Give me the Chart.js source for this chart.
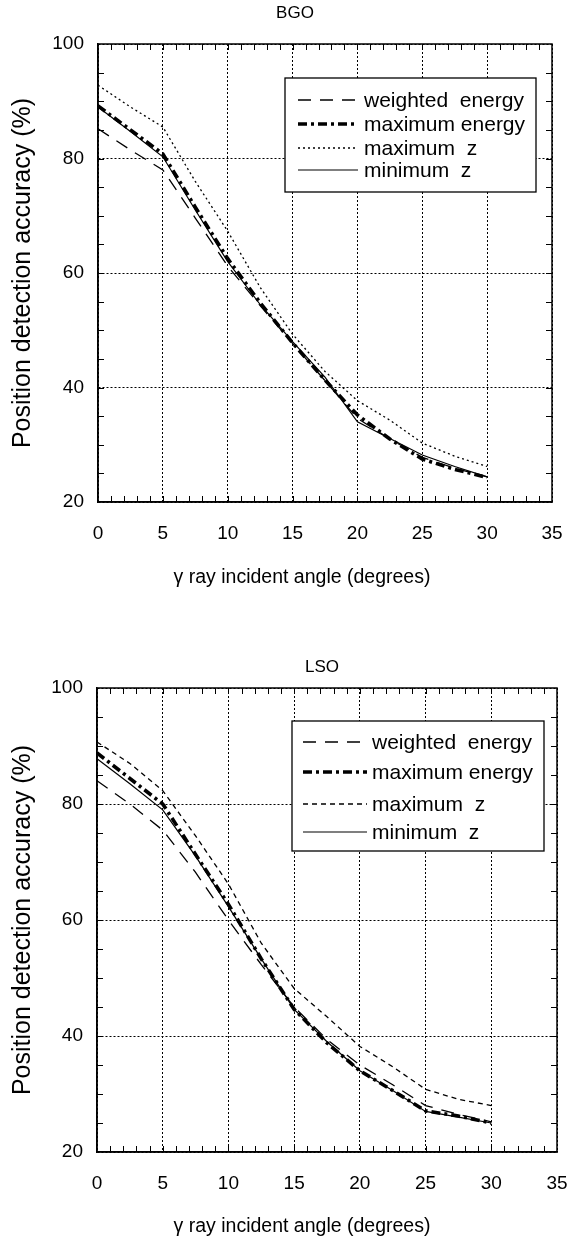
<!DOCTYPE html>
<html>
<head>
<meta charset="utf-8">
<script src="https://cdn.jsdelivr.net/npm/chart.js@4.4.1/dist/chart.umd.min.js"></script>
<style>
  body { margin: 0; background: #fff; width: 572px; height: 1244px; overflow: hidden; }
  .chart-box { position: absolute; left: 0; width: 572px; height: 622px; }
</style>
</head>
<body>
<div class="chart-box" style="top:0"><canvas id="bgoChart"></canvas></div>
<div class="chart-box" style="top:622px"><canvas id="lsoChart"></canvas></div>

<script>
// incident angle (degrees), values every 2.5 deg
const angles = [0, 2.5, 5, 7.5, 10, 12.5, 15, 17.5, 20, 22.5, 25, 27.5, 30];

const seriesNames = ['weighted  energy', 'maximum energy', 'maximum  z', 'minimum  z'];

// BGO
const bgoWeighted  = [85.2, 81.5, 78.0, 69.6, 61.2, 54.3, 47.7, 41.2, 34.6, 31.0, 27.8, 25.9, 24.4];
const bgoMaxEnergy = [89.2, 85.0, 80.8, 71.5, 62.5, 54.8, 47.8, 41.3, 35.2, 31.0, 27.5, 25.7, 24.3];
const bgoMaxZ      = [92.8, 89.0, 85.5, 76.0, 67.3, 57.5, 49.3, 42.8, 37.7, 34.3, 30.3, 28.0, 26.2];
const bgoMinZ      = [89.0, 84.7, 80.3, 71.0, 62.0, 54.5, 48.0, 41.8, 34.0, 31.1, 28.2, 26.2, 24.4];

// LSO
const lsoWeighted  = [84.0, 80.0, 75.5, 68.2, 60.0, 52.3, 45.0, 39.4, 35.0, 31.6, 28.0, 26.5, 25.2];
const lsoMaxEnergy = [88.8, 84.4, 80.0, 71.3, 62.7, 53.3, 44.6, 38.8, 34.0, 30.6, 27.1, 26.2, 25.0];
const lsoMaxZ      = [90.7, 87.0, 82.3, 74.5, 66.2, 56.0, 48.2, 43.3, 38.2, 34.7, 30.8, 29.1, 28.0];
const lsoMinZ      = [87.8, 83.5, 79.0, 71.0, 62.3, 53.3, 44.6, 39.0, 34.0, 30.6, 27.0, 26.0, 25.0];

const xTicks = [0, 5, 10, 15, 20, 25, 30, 35];
const yTicks = [20, 40, 60, 80, 100];

const xTitleText = 'γ ray incident angle (degrees)';
const yTitleText = 'Position detection accuracy (%)';

const FONT = '"Liberation Sans", Arial, Helvetica, sans-serif';
Chart.defaults.font.family = FONT;
Chart.defaults.color = '#000';

const toPoints = (vals) => angles.map((a, i) => ({ x: a, y: vals[i] }));

// frame + inward minor ticks on all four sides
const framePlugin = {
  id: 'frame',
  afterDatasetsDraw(chart) {
    const { ctx, chartArea: a, scales: { x, y } } = chart;
    ctx.save();
    ctx.strokeStyle = '#000';
    ctx.lineWidth = 1;
    ctx.setLineDash([]);
    ctx.beginPath();
    for (let v = x.min + 1; v < x.max; v++) {
      const px = Math.round(x.getPixelForValue(v)) + 0.5;
      ctx.moveTo(px, a.bottom); ctx.lineTo(px, a.bottom - 6);
      ctx.moveTo(px, a.top); ctx.lineTo(px, a.top + 6);
    }
    for (let v = y.min + 5; v < y.max; v += 5) {
      const py = Math.round(y.getPixelForValue(v)) + 0.5;
      ctx.moveTo(a.left, py); ctx.lineTo(a.left + 6, py);
      ctx.moveTo(a.right, py); ctx.lineTo(a.right - 6, py);
    }
    ctx.stroke();
    ctx.lineWidth = 1.5;
    ctx.strokeRect(a.left, a.top, a.right - a.left, a.bottom - a.top);
    ctx.restore();
  }
};

// boxed legend inside the plot area
const boxLegendPlugin = {
  id: 'boxLegend',
  afterDatasetsDraw(chart, args, opts) {
    const { ctx, chartArea: a } = chart;
    const bx = a.left + opts.left, by = a.top + opts.top;
    ctx.save();
    ctx.fillStyle = '#fff';
    ctx.fillRect(bx, by, opts.width, opts.height);
    ctx.strokeStyle = '#000';
    ctx.lineWidth = 1.3;
    ctx.setLineDash([]);
    ctx.strokeRect(bx, by, opts.width, opts.height);
    ctx.font = opts.fontSize + 'px ' + FONT;
    ctx.textBaseline = 'middle';
    ctx.fillStyle = '#000';
    chart.data.datasets.forEach((ds, i) => {
      const ry = by + opts.rowY[i];
      ctx.beginPath();
      ctx.lineWidth = ds.borderWidth;
      ctx.setLineDash(ds.borderDash || []);
      ctx.moveTo(bx + opts.lineX0, ry);
      ctx.lineTo(bx + opts.lineX1, ry);
      ctx.stroke();
      ctx.setLineDash([]);
      ctx.fillText(ds.label, bx + opts.textX, ry + 1);
    });
    ctx.restore();
  }
};

// chart title and x axis title, which sit off-centre in the original
const captionPlugin = {
  id: 'captions',
  afterDraw(chart, args, opts) {
    const { ctx } = chart;
    ctx.save();
    ctx.fillStyle = '#000';
    ctx.textAlign = 'center';
    ctx.textBaseline = 'middle';
    ctx.font = '17px ' + FONT;
    ctx.fillText(opts.title, opts.titleX, opts.titleY);
    ctx.font = '19.5px ' + FONT;
    ctx.fillText(xTitleText, opts.xTitleX, opts.xTitleY);
    ctx.restore();
  }
};

function buildChart(canvasId, cfg) {
  const ctx = document.getElementById(canvasId);
  return new Chart(ctx, {
    type: 'line',
    data: {
      datasets: [
        { label: seriesNames[0], data: toPoints(cfg.weighted), borderColor: '#000', borderWidth: 1.3, borderDash: [13, 9] },
        { label: seriesNames[1], data: toPoints(cfg.maxEnergy), borderColor: '#000', borderWidth: 3.6, borderDash: [9, 4, 3, 4] },
        { label: seriesNames[2], data: toPoints(cfg.maxZ), borderColor: '#000', borderWidth: 1.3, borderDash: cfg.maxZDash },
        { label: seriesNames[3], data: toPoints(cfg.minZ), borderColor: '#000', borderWidth: 1.2 }
      ]
    },
    options: {
      responsive: true,
      maintainAspectRatio: false,
      animation: false,
      layout: { padding: { left: 0, right: cfg.padRight, top: cfg.padTop, bottom: 0 } },
      elements: { point: { radius: 0 }, line: { tension: 0, fill: false } },
      plugins: {
        legend: { display: false },
        tooltip: { enabled: false },
        title: { display: false },
        boxLegend: cfg.legend,
        captions: cfg.captions
      },
      scales: {
        x: {
          type: 'linear',
          min: 0, max: 35,
          afterBuildTicks: (s) => { s.ticks = xTicks.map(v => ({ value: v })); },
          afterFit: (s) => { s.height = cfg.xHeight; s.paddingLeft = 0; s.paddingRight = 0; },
          ticks: { font: { size: 19 }, padding: 20, color: '#000' },
          grid: { color: '#000', lineWidth: 1, drawTicks: false },
          border: { display: true, color: '#000', width: 1.5, dash: [2, 2] }
        },
        y: {
          min: 20, max: 100,
          afterBuildTicks: (s) => { s.ticks = yTicks.map(v => ({ value: v })); },
          afterFit: (s) => { s.width = cfg.yWidth; },
          ticks: { font: { size: 19 }, padding: 14, color: '#000' },
          grid: { color: '#000', lineWidth: 1, drawTicks: false },
          border: { display: true, color: '#000', width: 1.5, dash: [2, 2] },
          title: {
            display: true,
            text: yTitleText,
            font: { size: 25 },
            color: '#000',
            padding: { top: 8, bottom: 0 }
          }
        }
      }
    },
    plugins: [framePlugin, boxLegendPlugin, captionPlugin]
  });
}

buildChart('bgoChart', {
  weighted: bgoWeighted, maxEnergy: bgoMaxEnergy, maxZ: bgoMaxZ, minZ: bgoMinZ,
  maxZDash: [2, 3],
  padRight: 20,
  padTop: 44,
  xHeight: 120,
  yWidth: 98,
  captions: { title: 'BGO', titleX: 295, titleY: 13, xTitleX: 302, xTitleY: 578 },
  legend: { left: 187, top: 34, width: 251, height: 114, rowY: [22, 46, 70, 92], lineX0: 13, lineX1: 73, textX: 79, fontSize: 21 }
});

buildChart('lsoChart', {
  weighted: lsoWeighted, maxEnergy: lsoMaxEnergy, maxZ: lsoMaxZ, minZ: lsoMinZ,
  maxZDash: [5, 4],
  padRight: 15,
  padTop: 66,
  xHeight: 92,
  yWidth: 97,
  captions: { title: 'LSO', titleX: 322, titleY: 45, xTitleX: 302, xTitleY: 605 },
  legend: { left: 195, top: 33, width: 252, height: 130, rowY: [21, 51, 83, 111], lineX0: 11, lineX1: 75, textX: 80, fontSize: 21 }
});
</script>
</body>
</html>
